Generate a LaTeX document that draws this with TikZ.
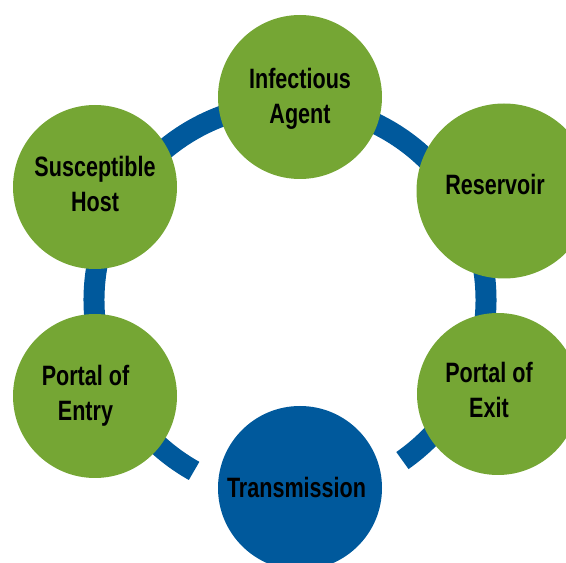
\documentclass[tikz,border=0pt]{standalone}
\usepackage{fontspec}
\setmainfont{Liberation Sans}[FakeStretch=0.77]
\definecolor{chaingreen}{RGB}{117,166,52}
\definecolor{chainblue}{RGB}{0,89,156}
\tikzset{
    link/.style = {circle, fill=chaingreen, minimum size=164pt, inner sep=0pt},
    linktext/.style = {align=center, inner sep=0pt, font=\bfseries\fontsize{28}{35}\selectfont}
}
\begin{document}
\begin{tikzpicture}[x=1pt, y=1pt]
    \useasboundingbox (0,0) rectangle (566,563);
    \clip (0,0) rectangle (566,563);
    % the chain ring behind the links
    \coordinate (hub) at (290,263);
    \draw[chainblue, line width=21pt] (hub) ++(-55:196) arc[start angle=-55, end angle=240.7, radius=196];
    % links of the chain
    \node[link] (agent) at (300,466) {};
    \node[link, minimum size=175pt] (reservoir) at (504,372) {};
    \node[link, minimum size=162pt] (exit) at (498,169) {};
    \node[link, fill=chainblue] (transmission) at (300,75) {};
    \node[link] (entry) at (95,167) {};
    \node[link] (host) at (95,376) {};
    % texts
    \node[linktext, yshift=-1.5] (agent-t) at (agent) {Infectious\\Agent};
    \node[linktext, xshift=-9, yshift=7] (reservoir-t) at (reservoir) {Reservoir};
    \node[linktext, xshift=-9, yshift=4] (exit-t) at (exit) {Portal of\\Exit};
    \node[linktext, xshift=-3.5, yshift=1] (transmission-t) at (transmission) {Transmission};
    \node[linktext, xshift=-9.5] (entry-t) at (entry) {Portal of\\Entry};
    \node[linktext, yshift=3.5] (host-t) at (host) {Susceptible\\Host};
\end{tikzpicture}
\end{document}
